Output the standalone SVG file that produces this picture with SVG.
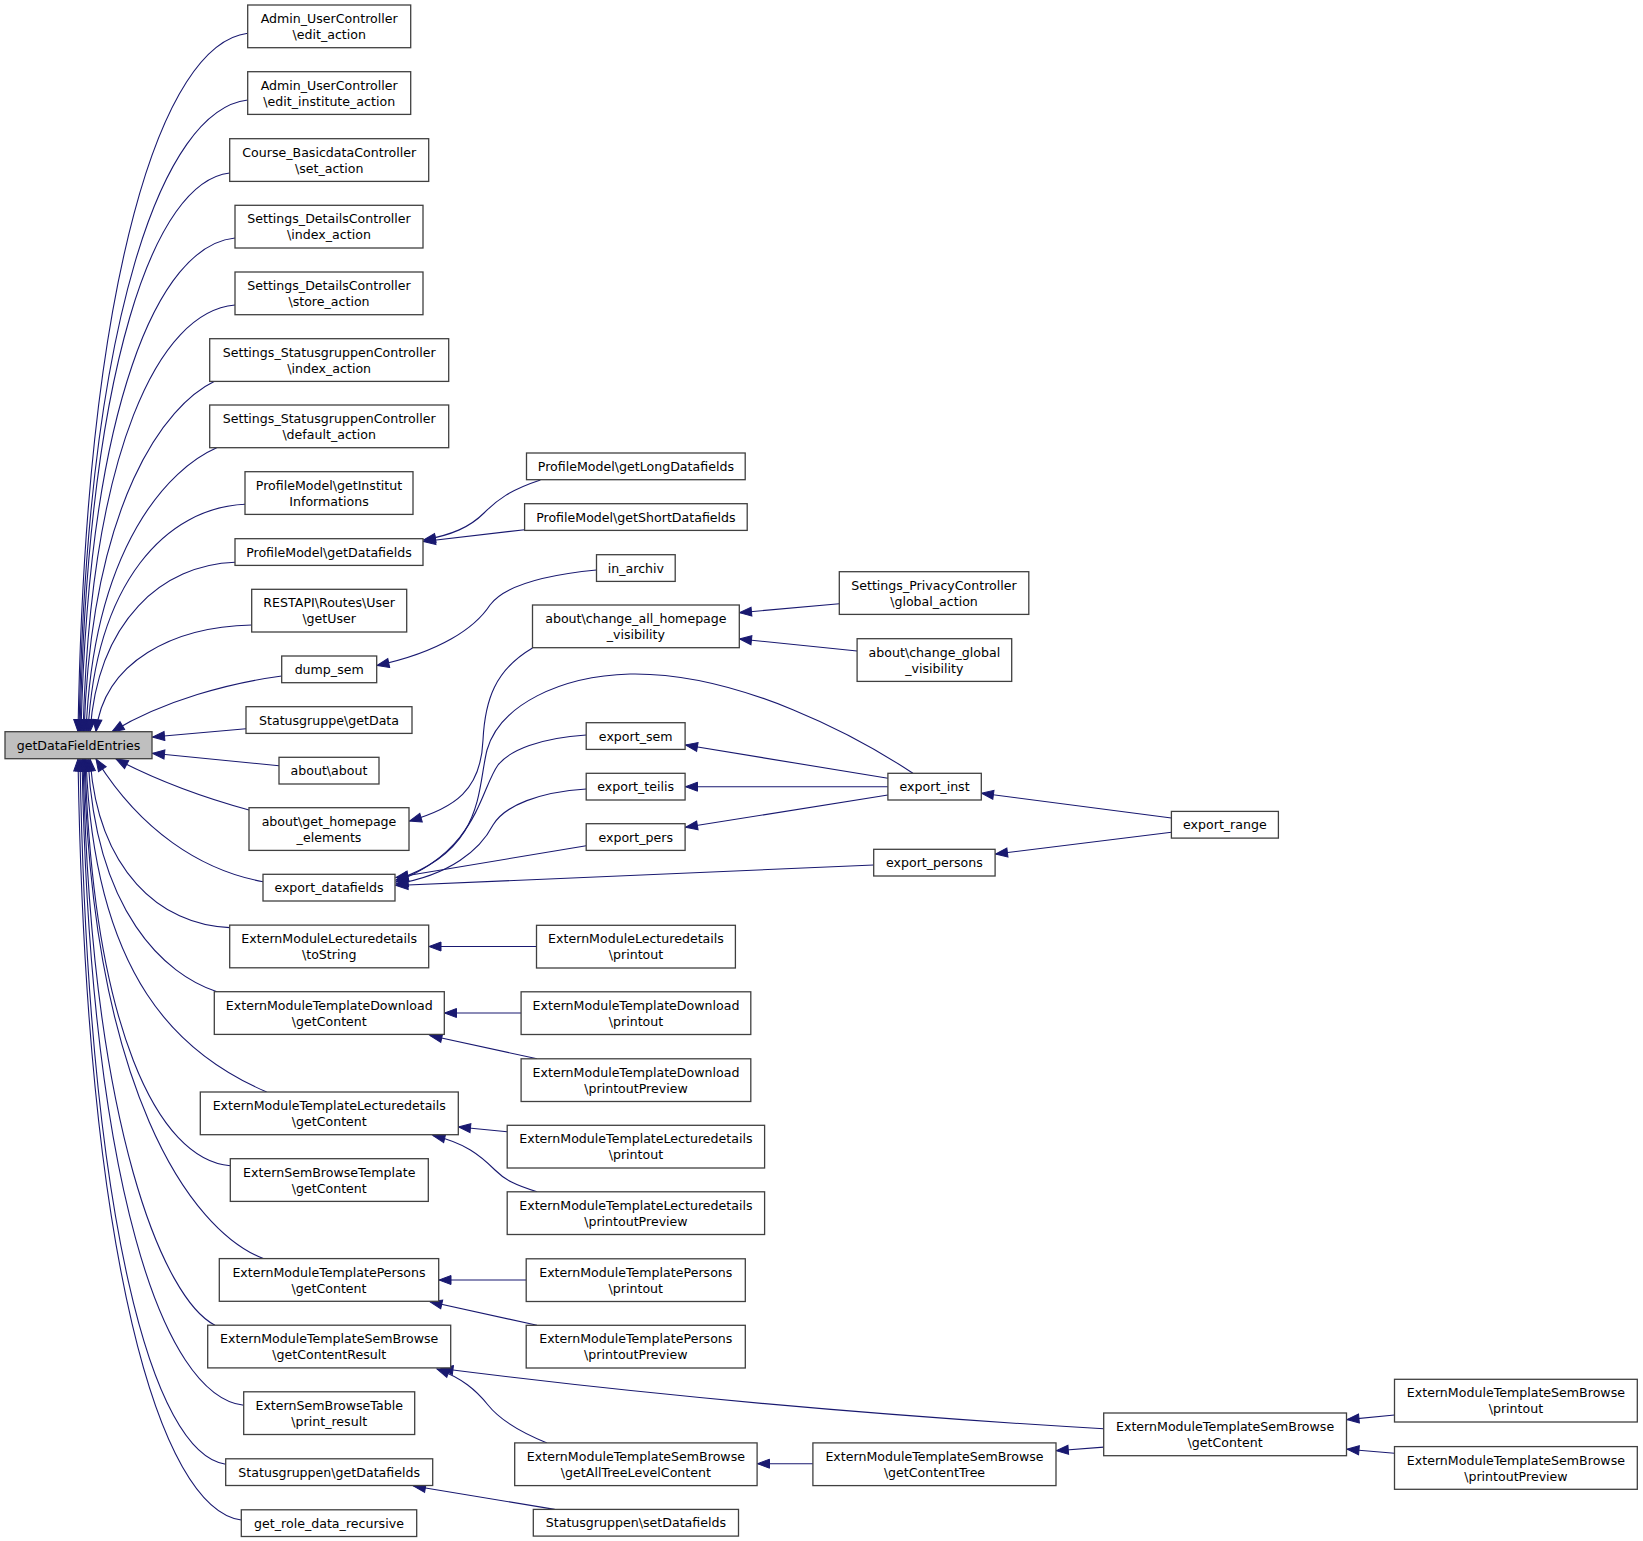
<svg xmlns="http://www.w3.org/2000/svg" width="1643" height="1541" viewBox="0 0 1643 1541">
<style>
.node rect{fill:#ffffff;stroke:#404040;stroke-width:1.3}
.node rect.hl{fill:#bfbfbf}
.node text{font-family:"DejaVu Sans","Liberation Sans",sans-serif;font-size:12.6px;fill:#000000;text-anchor:middle}
.edges path{fill:none;stroke:#191970;stroke-width:1.1;marker-end:url(#arr)}
</style>
<defs>
<marker id="arr" markerWidth="13" markerHeight="10" refX="12" refY="4.5" orient="auto" markerUnits="userSpaceOnUse" overflow="visible">
<path d="M0,0 L12,4.5 L0,9 z" fill="#191970" stroke="#191970" stroke-width="1"/>
</marker>
</defs>
<rect x="0" y="0" width="1643" height="1541" fill="#ffffff"/>
<g class="edges" id="connectors">
<path d="M247.7,33.3 C162.9,43.8 86,270.8 78,731.7"/>
<path d="M247.7,100 C163.4,109.5 87,314.8 79,731.7"/>
<path d="M229.7,173 C154.9,181.4 88,363 80,731.7"/>
<path d="M235,238 C158,245.4 89,405.9 81,731.7"/>
<path d="M235,305 C159,311.4 91,450.1 83,731.7"/>
<path d="M215,381 C165,405 92,500.2 84,731.7"/>
<path d="M216.7,447.7 C170,468 94,544.3 86,731.7"/>
<path d="M245,504.3 C166.5,507.7 96,581.6 88,731.7"/>
<path d="M235,562.3 C162.5,564.8 98,619.9 90,731.7"/>
<path d="M251.7,625 C173.9,626.6 104,661.3 96,731.7"/>
<path d="M281.7,676 C230,683 165,700 112,731.7"/>
<path d="M246,728.7 L152.5,737"/>
<path d="M279,765.7 L152.5,753.3"/>
<path d="M249,810 C205,798 160,782 116,759"/>
<path d="M263,881.7 C200,870 140,830 96,759"/>
<path d="M229.7,927.6 C159.9,925.1 98,870.2 90,759"/>
<path d="M217,991.7 C165,975 96,912.5 88,759"/>
<path d="M266.7,1092 C180,1055 94,978.7 86,759"/>
<path d="M230.3,1165.8 C157.7,1159.7 93,1027.4 85,759"/>
<path d="M263.3,1258.6 C190,1230 92,1088.6 84,759"/>
<path d="M215,1325.2 C165,1300 91,1132.6 83,759"/>
<path d="M243.7,1405.3 C162.9,1395.6 90,1185.5 82,759"/>
<path d="M225.7,1464.3 C152.9,1453.7 88,1224.4 80,759"/>
<path d="M241.3,1520 C159.7,1508.6 86,1261.2 78,759"/>
<path d="M540.4,480 C510,490 497,500 484,513 C470,527 452,535 423.5,540"/>
<path d="M524.6,529.7 L423.5,541.5"/>
<path d="M596.5,570 C545,575 505,585 490,605 C475,628 440,652 377,665.5"/>
<path d="M532.5,648 C495,670 485,700 483,740 C481,790 455,808 409.5,821"/>
<path d="M839.3,603.7 L739.5,612.7"/>
<path d="M857.1,651 L739.5,639"/>
<path d="M912.9,773.3 C860,738 740,672 630,674 C560,676 500,705 487,750 C477,790 485,850 396,880"/>
<path d="M586.2,735 C540,738 510,750 498,765 C480,790 478,850 396,882"/>
<path d="M586.2,789 C540,792 505,805 493,825 C480,850 450,875 396,884"/>
<path d="M586.2,845.7 L396,877.5"/>
<path d="M873.7,865 L396,885.5"/>
<path d="M887.9,778.3 L685.5,745"/>
<path d="M887.9,786.7 L685.5,786.7"/>
<path d="M887.9,795 L685.5,827.3"/>
<path d="M1171.4,818 L981.5,793.3"/>
<path d="M1171.4,832.3 L995.5,854"/>
<path d="M536.5,946.5 L429,946.5"/>
<path d="M521.1,1013 L444.5,1013"/>
<path d="M537,1058.8 L430,1035.5"/>
<path d="M507.2,1131.8 L458.5,1127"/>
<path d="M537,1191.8 C515,1185 505,1180 495,1170 C480,1155 465,1143 433,1135.5"/>
<path d="M526.2,1280 L439,1280"/>
<path d="M537,1325.3 L430,1301.8"/>
<path d="M1103.7,1428.8 Q750,1408 441,1368.5"/>
<path d="M547,1442.9 C520,1432 500,1420 488,1405 C476,1390 462,1378 437,1369"/>
<path d="M812.9,1463.7 L757.5,1463.7"/>
<path d="M1103.7,1447.1 L1056.3,1450.7"/>
<path d="M1394.5,1415 L1347,1419.6"/>
<path d="M1394.5,1453.3 L1347,1449.2"/>
<path d="M554.7,1509.4 L413.5,1486"/>
</g>
<g id="n0" class="node"><rect class="hl" x="5" y="731.7" width="147" height="27"/><text x="78.5" y="749.6">getDataFieldEntries</text></g>
<g id="r1a" class="node"><rect x="247.7" y="5" width="163" height="42.7"/><text><tspan x="329.2" y="23">Admin_UserController</tspan><tspan x="329.2" y="39">\edit_action</tspan></text></g>
<g id="r1b" class="node"><rect x="247.7" y="71.7" width="163" height="42.7"/><text><tspan x="329.2" y="89.7">Admin_UserController</tspan><tspan x="329.2" y="105.7">\edit_institute_action</tspan></text></g>
<g id="r1c" class="node"><rect x="229.7" y="138.7" width="199" height="42.7"/><text><tspan x="329.2" y="156.7">Course_BasicdataController</tspan><tspan x="329.2" y="172.7">\set_action</tspan></text></g>
<g id="r1d" class="node"><rect x="235" y="205.3" width="188" height="42.7"/><text><tspan x="329" y="223.3">Settings_DetailsController</tspan><tspan x="329" y="239.3">\index_action</tspan></text></g>
<g id="r1e" class="node"><rect x="235" y="272" width="188" height="42.7"/><text><tspan x="329" y="290">Settings_DetailsController</tspan><tspan x="329" y="306">\store_action</tspan></text></g>
<g id="r1f" class="node"><rect x="209.7" y="338.7" width="239" height="42.7"/><text><tspan x="329.2" y="356.7">Settings_StatusgruppenController</tspan><tspan x="329.2" y="372.7">\index_action</tspan></text></g>
<g id="r1g" class="node"><rect x="209.7" y="405" width="239" height="42.7"/><text><tspan x="329.2" y="423">Settings_StatusgruppenController</tspan><tspan x="329.2" y="439">\default_action</tspan></text></g>
<g id="r1h" class="node"><rect x="245" y="471.7" width="168" height="42.7"/><text><tspan x="329" y="489.7">ProfileModel\getInstitut</tspan><tspan x="329" y="505.7">Informations</tspan></text></g>
<g id="r1i" class="node"><rect x="235" y="538.7" width="188" height="26.7"/><text x="329" y="556.5">ProfileModel\getDatafields</text></g>
<g id="r1j" class="node"><rect x="251.7" y="589.3" width="155" height="42.7"/><text><tspan x="329.2" y="607.3">RESTAPI\Routes\User</tspan><tspan x="329.2" y="623.3">\getUser</tspan></text></g>
<g id="r1k" class="node"><rect x="281.7" y="656" width="95" height="26.7"/><text x="329.2" y="673.8">dump_sem</text></g>
<g id="r1l" class="node"><rect x="246" y="706.7" width="166" height="26.7"/><text x="329" y="724.5">Statusgruppe\getData</text></g>
<g id="r1m" class="node"><rect x="279" y="757.3" width="100" height="26.7"/><text x="329" y="775.1">about\about</text></g>
<g id="r1n" class="node"><rect x="249" y="807.7" width="160" height="42.7"/><text><tspan x="329" y="825.7">about\get_homepage</tspan><tspan x="329" y="841.7">_elements</tspan></text></g>
<g id="r1o" class="node"><rect x="263" y="874.3" width="132" height="26.7"/><text x="329" y="892.1">export_datafields</text></g>
<g id="r1p" class="node"><rect x="229.7" y="925.1" width="199" height="42.7"/><text><tspan x="329.2" y="943.1">ExternModuleLecturedetails</tspan><tspan x="329.2" y="959.1">\toString</tspan></text></g>
<g id="r1q" class="node"><rect x="214.3" y="991.7" width="230" height="42.7"/><text><tspan x="329.3" y="1009.7">ExternModuleTemplateDownload</tspan><tspan x="329.3" y="1025.7">\getContent</tspan></text></g>
<g id="r1r" class="node"><rect x="200.3" y="1092" width="258" height="42.7"/><text><tspan x="329.3" y="1110">ExternModuleTemplateLecturedetails</tspan><tspan x="329.3" y="1126">\getContent</tspan></text></g>
<g id="r1s" class="node"><rect x="230.3" y="1158.7" width="198" height="42.7"/><text><tspan x="329.3" y="1176.7">ExternSemBrowseTemplate</tspan><tspan x="329.3" y="1192.7">\getContent</tspan></text></g>
<g id="r1t" class="node"><rect x="219.3" y="1258.6" width="219.4" height="42.7"/><text><tspan x="329" y="1276.6">ExternModuleTemplatePersons</tspan><tspan x="329" y="1292.6">\getContent</tspan></text></g>
<g id="r1u" class="node"><rect x="207.7" y="1325.2" width="243" height="42.7"/><text><tspan x="329.2" y="1343.2">ExternModuleTemplateSemBrowse</tspan><tspan x="329.2" y="1359.2">\getContentResult</tspan></text></g>
<g id="r1v" class="node"><rect x="243.7" y="1391.8" width="171" height="42.7"/><text><tspan x="329.2" y="1409.8">ExternSemBrowseTable</tspan><tspan x="329.2" y="1425.8">\print_result</tspan></text></g>
<g id="r1w" class="node"><rect x="225.7" y="1458.8" width="207" height="26.7"/><text x="329.2" y="1476.6">Statusgruppen\getDatafields</text></g>
<g id="r1x" class="node"><rect x="241.3" y="1509.8" width="175.4" height="26.7"/><text x="329" y="1527.6">get_role_data_recursive</text></g>
<g id="r2a" class="node"><rect x="526.5" y="453" width="218.7" height="26.7"/><text x="635.9" y="470.8">ProfileModel\getLongDatafields</text></g>
<g id="r2b" class="node"><rect x="524.6" y="503.7" width="222.6" height="26.7"/><text x="635.9" y="521.5">ProfileModel\getShortDatafields</text></g>
<g id="r2c" class="node"><rect x="596.5" y="554.7" width="78.7" height="26.7"/><text x="635.9" y="572.5">in_archiv</text></g>
<g id="r2d" class="node"><rect x="532.5" y="605" width="206.8" height="42.7"/><text><tspan x="635.9" y="623">about\change_all_homepage</tspan><tspan x="635.9" y="639">_visibility</tspan></text></g>
<g id="r2e" class="node"><rect x="586.2" y="722.7" width="98.9" height="26.7"/><text x="635.7" y="740.5">export_sem</text></g>
<g id="r2f" class="node"><rect x="586.2" y="773.3" width="98.9" height="26.7"/><text x="635.7" y="791.1">export_teilis</text></g>
<g id="r2g" class="node"><rect x="586.2" y="823.7" width="98.9" height="26.7"/><text x="635.7" y="841.5">export_pers</text></g>
<g id="r2h" class="node"><rect x="536.5" y="925.3" width="198.9" height="42.7"/><text><tspan x="636" y="943.3">ExternModuleLecturedetails</tspan><tspan x="636" y="959.3">\printout</tspan></text></g>
<g id="r2i" class="node"><rect x="521.1" y="991.8" width="229.7" height="42.7"/><text><tspan x="636" y="1009.8">ExternModuleTemplateDownload</tspan><tspan x="636" y="1025.8">\printout</tspan></text></g>
<g id="r2j" class="node"><rect x="521.1" y="1058.8" width="229.7" height="42.7"/><text><tspan x="636" y="1076.8">ExternModuleTemplateDownload</tspan><tspan x="636" y="1092.8">\printoutPreview</tspan></text></g>
<g id="r2k" class="node"><rect x="507.2" y="1125.3" width="257.4" height="42.7"/><text><tspan x="635.9" y="1143.3">ExternModuleTemplateLecturedetails</tspan><tspan x="635.9" y="1159.3">\printout</tspan></text></g>
<g id="r2l" class="node"><rect x="507.2" y="1191.8" width="257.4" height="42.7"/><text><tspan x="635.9" y="1209.8">ExternModuleTemplateLecturedetails</tspan><tspan x="635.9" y="1225.8">\printoutPreview</tspan></text></g>
<g id="r2m" class="node"><rect x="526.2" y="1258.8" width="219.1" height="42.7"/><text><tspan x="635.8" y="1276.8">ExternModuleTemplatePersons</tspan><tspan x="635.8" y="1292.8">\printout</tspan></text></g>
<g id="r2n" class="node"><rect x="526.2" y="1325.3" width="219.1" height="42.7"/><text><tspan x="635.8" y="1343.3">ExternModuleTemplatePersons</tspan><tspan x="635.8" y="1359.3">\printoutPreview</tspan></text></g>
<g id="r2o" class="node"><rect x="514.7" y="1442.9" width="242.4" height="42.7"/><text><tspan x="635.9" y="1460.9">ExternModuleTemplateSemBrowse</tspan><tspan x="635.9" y="1476.9">\getAllTreeLevelContent</tspan></text></g>
<g id="r2p" class="node"><rect x="533.3" y="1509.4" width="205.2" height="26.7"/><text x="635.9" y="1527.2">Statusgruppen\setDatafields</text></g>
<g id="r3a" class="node"><rect x="839.3" y="571.7" width="189.5" height="42.7"/><text><tspan x="934" y="589.7">Settings_PrivacyController</tspan><tspan x="934" y="605.7">\global_action</tspan></text></g>
<g id="r3b" class="node"><rect x="857.1" y="638.7" width="154.6" height="42.7"/><text><tspan x="934.4" y="656.7">about\change_global</tspan><tspan x="934.4" y="672.7">_visibility</tspan></text></g>
<g id="r3c" class="node"><rect x="887.9" y="773.3" width="93.4" height="26.7"/><text x="934.6" y="791.1">export_inst</text></g>
<g id="r3d" class="node"><rect x="873.7" y="849.3" width="121.4" height="26.7"/><text x="934.4" y="867.1">export_persons</text></g>
<g id="r3e" class="node"><rect x="812.9" y="1442.9" width="243.1" height="42.7"/><text><tspan x="934.5" y="1460.9">ExternModuleTemplateSemBrowse</tspan><tspan x="934.5" y="1476.9">\getContentTree</tspan></text></g>
<g id="r4a" class="node"><rect x="1171.4" y="811.4" width="107" height="26.7"/><text x="1224.9" y="829.2">export_range</text></g>
<g id="r4b" class="node"><rect x="1103.7" y="1413" width="242.8" height="42.7"/><text><tspan x="1225.1" y="1431">ExternModuleTemplateSemBrowse</tspan><tspan x="1225.1" y="1447">\getContent</tspan></text></g>
<g id="r5a" class="node"><rect x="1394.5" y="1379.3" width="242.8" height="42.7"/><text><tspan x="1515.9" y="1397.3">ExternModuleTemplateSemBrowse</tspan><tspan x="1515.9" y="1413.3">\printout</tspan></text></g>
<g id="r5b" class="node"><rect x="1394.5" y="1446.6" width="242.8" height="42.7"/><text><tspan x="1515.9" y="1464.6">ExternModuleTemplateSemBrowse</tspan><tspan x="1515.9" y="1480.6">\printoutPreview</tspan></text></g>
</svg>
